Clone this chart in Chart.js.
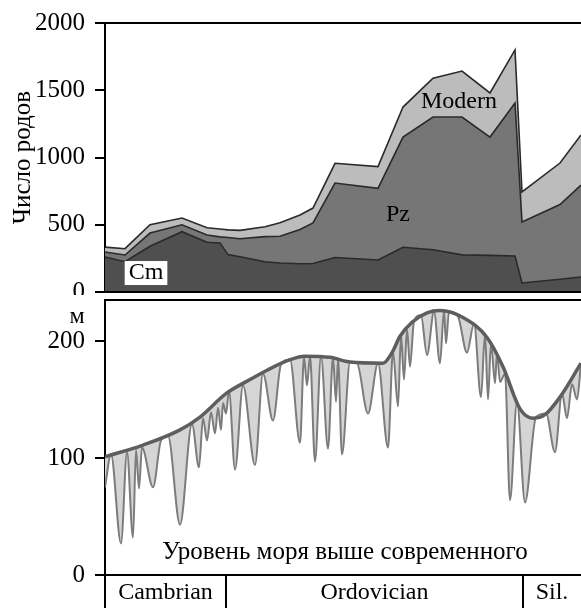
<!DOCTYPE html>
<html>
<head>
<meta charset="utf-8">
<script src="https://cdn.jsdelivr.net/npm/chart.js@4.4.1/dist/chart.umd.min.js"></script>
<style>
  html, body { margin: 0; padding: 0; background: #fff; }
  #wrap { position: relative; width: 581px; height: 608px; overflow: hidden; }
  canvas { position: absolute; left: 0; }
  #genera { top: 0; }
  #sea { top: 295px; background: #fff; }
</style>
</head>
<body>
<div id="wrap">
  <canvas id="genera" width="581" height="310"></canvas>
  <canvas id="sea" width="581" height="313"></canvas>
</div>
<script>
// time axis positions (schematic, shared by both panels)
const generaX = [0, 20, 45, 77, 102, 115, 123, 135, 160, 175, 195, 208, 230, 273, 298, 328, 357, 385, 410, 417, 455, 476];
// number of genera per group (stacked)
const cambrianGenera = [260, 225, 340, 448, 370, 365, 278, 262, 225, 216, 210, 212, 257, 238, 333, 314, 276, 272, 268, 67, 95, 111];
const paleozoicGenera = [37, 50, 98, 52, 54, 45, 127, 134, 187, 199, 255, 301, 553, 533, 819, 987, 1025, 880, 1137, 453, 555, 684];
const modernGenera = [37, 47, 62, 50, 54, 58, 57, 62, 73, 100, 107, 111, 147, 161, 223, 289, 342, 328, 395, 224, 309, 372];
const generaTicks = [0, 500, 1000, 1500, 2000];

// long-term sea level (smooth envelope), metres above present
const envelopeX = [0, 38, 75, 95, 121, 145, 162, 185, 200, 225, 245, 278, 287, 295, 307, 322, 335, 358, 382, 398, 415, 428, 440, 455, 476];
const envelopeLevel = [101, 111, 124, 135, 155, 167, 175, 184, 187, 186, 182, 181, 190, 204, 216, 224, 226, 220, 203, 178, 142, 134, 137, 152, 181];

// short-term sea level with regressions
const seaX = [0, 6, 16, 22, 28, 31, 34, 37, 48, 56, 63, 75, 87, 94, 98, 102, 106, 110, 113, 116, 118, 121, 124, 130, 138, 150, 158, 168, 176, 185,
  195, 199, 202, 205, 210, 216, 223, 228, 231, 233, 237, 245, 252, 263, 273, 283, 288, 293, 296, 299, 302, 305, 309, 316, 322, 329, 335, 339, 341, 344,
  353, 362, 369, 376, 380, 383, 386, 390, 392, 395, 400, 405, 412, 420, 431, 441, 450, 457, 462, 467, 472, 476];
const seaLevel = [75, 103, 27, 105, 32, 107, 74, 109, 75, 115, 119, 43, 129, 92, 134, 115, 139, 121, 143, 124, 147, 138, 157, 90, 162, 94, 172, 132, 180, 184,
  113, 186, 162, 187, 97, 187, 108, 186, 148, 185, 103, 182, 181, 138, 181, 109, 191, 144, 205, 167, 210, 178, 217, 222, 188, 225, 181, 226, 198, 225,
  221, 190, 215, 152, 206, 150, 198, 164, 190, 165, 172, 64, 148, 62, 135, 138, 105, 155, 134, 163, 150, 181];
const seaTicks = [0, 100, 200];

const periods = ['Cambrian', 'Ordovician', 'Sil.'];
const periodStarts = [0, 121, 418];

const SERIF = "'Liberation Serif', 'Times New Roman', serif";
Chart.defaults.font.family = SERIF;
Chart.defaults.color = '#000';

function pts(xs, ys) {
  return xs.map((x, i) => ({ x: x, y: ys[i] }));
}

function label(ctx, text, x, y, size, boxed) {
  ctx.save();
  ctx.font = size + 'px ' + SERIF;
  ctx.textAlign = 'center';
  ctx.textBaseline = 'middle';
  if (boxed) {
    const w = ctx.measureText(text).width + 8;
    ctx.fillStyle = '#fff';
    ctx.fillRect(x - w / 2, y - 12, w, 24);
  }
  ctx.fillStyle = '#000';
  ctx.fillText(text, x, y);
  ctx.restore();
}

function yAxis(max, ticks, title) {
  return {
    min: 0,
    max: max,
    afterFit: s => { s.width = 105; s.paddingTop = 0; s.paddingBottom = 0; },
    afterBuildTicks: s => { s.ticks = ticks.map(v => ({ value: v })); },
    ticks: { font: { size: 25 }, padding: 10, callback: v => String(v) },
    grid: { drawOnChartArea: false, tickLength: 10, color: '#000', lineWidth: 2 },
    border: { display: true, color: '#000', width: 2 },
    title: title ? { display: true, text: title, font: { size: 25 }, padding: { top: 8, bottom: 0 } } : { display: false }
  };
}

// top panel: frame + group labels
const generaFrame = {
  id: 'generaFrame',
  afterDraw(chart) {
    const { ctx, chartArea: a, scales: { x, y } } = chart;
    ctx.save();
    ctx.strokeStyle = '#000';
    ctx.lineWidth = 2;
    ctx.beginPath();
    ctx.moveTo(a.left, a.top); ctx.lineTo(a.right, a.top);
    ctx.moveTo(a.left, a.bottom); ctx.lineTo(a.right, a.bottom);
    ctx.stroke();
    ctx.restore();
    label(ctx, 'Cm', x.getPixelForValue(41), y.getPixelForValue(141), 24, true);
    label(ctx, 'Pz', x.getPixelForValue(293), y.getPixelForValue(572), 24);
    label(ctx, 'Modern', x.getPixelForValue(354), y.getPixelForValue(1413), 24);
  }
};

new Chart(document.getElementById('genera').getContext('2d'), {
  type: 'line',
  data: {
    datasets: [
      { data: pts(generaX, cambrianGenera), fill: 'origin', backgroundColor: '#4f4f4f' },
      { data: pts(generaX, paleozoicGenera), fill: '-1', backgroundColor: '#767676' },
      { data: pts(generaX, modernGenera), fill: '-1', backgroundColor: '#bcbcbc' }
    ]
  },
  options: {
    responsive: false,
    animation: false,
    layout: { padding: { top: 23, bottom: 18, left: 0, right: 0 } },
    elements: {
      point: { radius: 0 },
      line: { borderColor: '#2a2a2a', borderWidth: 1.6, tension: 0 }
    },
    scales: {
      x: { type: 'linear', display: false, min: 0, max: 476 },
      y: Object.assign(yAxis(2000, generaTicks, 'Число родов'), { stacked: true })
    },
    plugins: { legend: { display: false }, tooltip: { enabled: false } }
  },
  plugins: [generaFrame]
});

// bottom panel: frame, period boxes and captions
const seaFrame = {
  id: 'seaFrame',
  afterDraw(chart) {
    const { ctx, chartArea: a, scales: { x, y } } = chart;
    const bottom = chart.height;
    ctx.save();
    ctx.strokeStyle = '#000';
    ctx.lineWidth = 2;
    ctx.beginPath();
    ctx.moveTo(a.left, a.top); ctx.lineTo(a.right, a.top);
    ctx.moveTo(a.left, a.bottom); ctx.lineTo(a.right, a.bottom);
    ctx.moveTo(a.left, a.bottom); ctx.lineTo(a.left, bottom);
    periodStarts.slice(1).forEach(v => {
      const px = x.getPixelForValue(v);
      ctx.moveTo(px, a.bottom); ctx.lineTo(px, bottom);
    });
    ctx.stroke();
    ctx.restore();
    periods.forEach((p, i) => {
      const x0 = x.getPixelForValue(periodStarts[i]);
      const x1 = i + 1 < periodStarts.length ? x.getPixelForValue(periodStarts[i + 1]) : a.right;
      label(ctx, p, (x0 + x1) / 2, (a.bottom + bottom) / 2 + 1, 24);
    });
    label(ctx, 'м', a.left - 28, y.getPixelForValue(221), 24);
    label(ctx, 'Уровень моря выше современного', x.getPixelForValue(240), y.getPixelForValue(19), 25);
  }
};

new Chart(document.getElementById('sea').getContext('2d'), {
  type: 'line',
  data: {
    datasets: [
      {
        data: pts(seaX, seaLevel), fill: 1, order: 1,
        backgroundColor: '#d5d5d5', borderColor: '#7c7c7c', borderWidth: 2,
        cubicInterpolationMode: 'monotone'
      },
      {
        data: pts(envelopeX, envelopeLevel), fill: false, order: 0,
        borderColor: '#5e5e5e', borderWidth: 3.5,
        cubicInterpolationMode: 'monotone'
      }
    ]
  },
  options: {
    responsive: false,
    animation: false,
    layout: { padding: { top: 5, bottom: 33, left: 0, right: 0 } },
    elements: { point: { radius: 0 } },
    scales: {
      x: { type: 'linear', display: false, min: 0, max: 476 },
      y: yAxis(235, seaTicks, null)
    },
    plugins: { legend: { display: false }, tooltip: { enabled: false } }
  },
  plugins: [seaFrame]
});
</script>
</body>
</html>
